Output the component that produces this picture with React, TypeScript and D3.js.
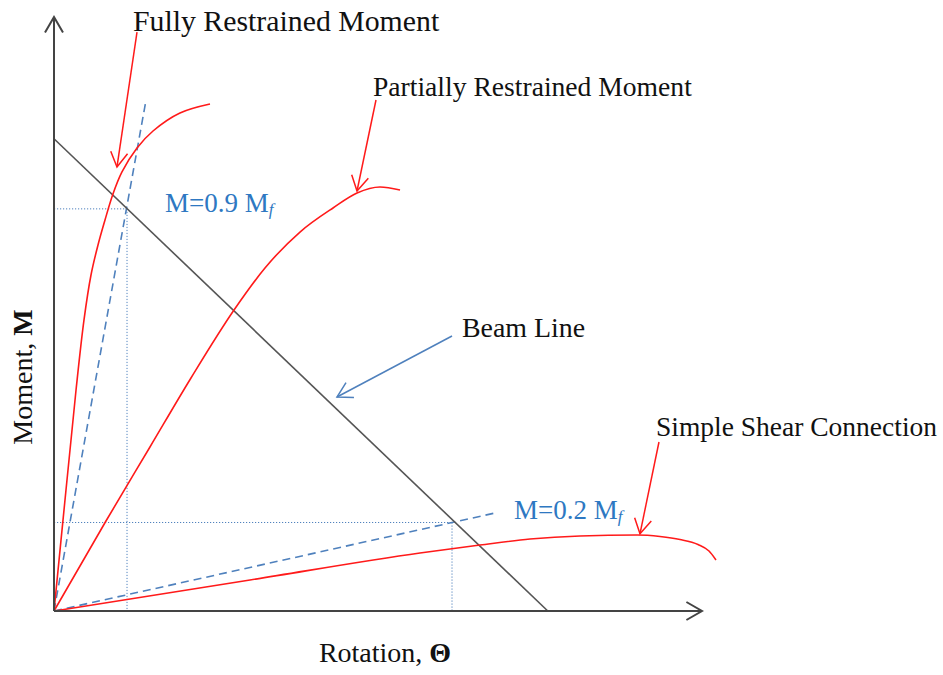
import React from "react";
import * as d3 from "d3";

// ---- Data (arbitrary units: rotation θ, moment M) ----
const fullyTheta = [0, 1.85, 3.4, 4.63, 5.71, 6.79, 7.87, 9.1, 10.49, 12.81, 15.28, 19.44, 24.07];
const fullyMoment = [0, 20.37, 37.21, 49.01, 56.57, 61.62, 65.82, 70.2, 73.91, 77.95, 80.81, 83.84, 85.35];

const partialTheta = [0, 8.02, 14.81, 21.14, 27.78, 32.56, 37.96, 43.06, 46.76, 50.31, 53.4];
const partialMoment = [0, 15.15, 27.61, 39.23, 50.67, 57.74, 63.8, 67.85, 70.37, 71.38, 70.88];

const shearTheta = [0, 30.25, 56.48, 65.74, 73.46, 81.17, 89.97, 93.52, 96.6, 99.38, 101.08, 102.16];
const shearMoment = [0, 5.22, 9.76, 11.11, 12.12, 12.63, 12.79, 12.54, 12.04, 11.2, 10.1, 8.59];

const beamTheta = [0, 76.2];
const beamMoment = [79.5, 0];

// secant (dashed) lines from origin
const secantTheta = [14.2, 68.06];
const secantMoment = [86.0, 16.5];

// intersection reference points (beam line)
const refTheta = [11.27, 61.42];
const refMoment = [67.7, 14.9];
const refLabels = ["M=0.9 M", "M=0.2 M"];

const W = 943;
const H = 675;
const x = d3.scaleLinear().domain([0, 100]).range([54, 702]);
const y = d3.scaleLinear().domain([0, 100]).range([611, 17]);

const RED = "#ff1a1a";
const BLUE = "#4f81bd";
const LABEL_BLUE = "#2e78c2";
const FONT = "'Liberation Serif', 'Times New Roman', serif";

const makeLine = (curve: d3.CurveFactory) =>
  d3
    .line<[number, number]>()
    .x((d) => x(d[0]))
    .y((d) => y(d[1]))
    .curve(curve);

const lineC = makeLine(d3.curveCatmullRom.alpha(0.5));
const lineX = makeLine(d3.curveMonotoneX);
const lineStraight = makeLine(d3.curveLinear);

const zip = (a: number[], b: number[]): [number, number][] => a.map((v, i) => [v, b[i]]);

function arrowHead(x1: number, y1: number, x2: number, y2: number, len = 16, ang = 30) {
  const a = Math.atan2(y1 - y2, x1 - x2);
  const r = (ang * Math.PI) / 180;
  const p1 = [x2 + len * Math.cos(a + r), y2 + len * Math.sin(a + r)];
  const p2 = [x2 + len * Math.cos(a - r), y2 + len * Math.sin(a - r)];
  return `M${p1[0]},${p1[1]}L${x2},${y2}L${p2[0]},${p2[1]}`;
}

// annotation arrows (data coords)
const annotations = [
  { text: "Fully Restrained Moment", tx: 12.19, ty: 97.64, size: 29.8, from: [12.81, 97.47], to: [9.72, 74.75], color: RED },
  { text: "Partially Restrained Moment", tx: 49.23, ty: 86.7, size: 27.6, from: [49.69, 86.03], to: [46.76, 70.71], color: RED },
  { text: "Beam Line", tx: 62.96, ty: 46.13, size: 27.9, from: [61.42, 46.3], to: [43.67, 36.03], color: BLUE },
  { text: "Simple Shear Connection", tx: 92.9, ty: 29.46, size: 27.5, from: [93.36, 28.45], to: [90.43, 13.0], color: RED },
];
const refLabelPos = [
  [17.13, 67.17],
  [70.99, 15.49],
];

export default function App() {
  const x0 = x(0);
  const y0 = y(0);
  const curves = [
    lineC(zip(fullyTheta, fullyMoment)),
    lineX(zip(partialTheta, partialMoment)),
    lineX(zip(shearTheta, shearMoment)),
  ];
  return (
    <svg
      width={W}
      height={H}
      style={{ position: "absolute", left: 0, top: 0, background: "#fff" }}
      fontFamily={FONT}
    >
      <rect width={W} height={H} fill="#fff" />
      {/* dotted reference lines */}
      {refTheta.map((t, i) => (
        <g key={"ref" + i} stroke={BLUE} strokeWidth={1} strokeDasharray="1.2,1.8" fill="none">
          <line x1={x0} y1={y(refMoment[i])} x2={x(t)} y2={y(refMoment[i])} />
          <line x1={x(t)} y1={y(refMoment[i])} x2={x(t)} y2={y0} />
        </g>
      ))}
      {/* dashed secant lines */}
      {secantTheta.map((t, i) => (
        <line
          key={"sec" + i}
          x1={x0}
          y1={y0}
          x2={x(t)}
          y2={y(secantMoment[i])}
          stroke={BLUE}
          strokeWidth={1.6}
          strokeDasharray="8,5"
        />
      ))}
      {/* beam line */}
      <path d={lineStraight(zip(beamTheta, beamMoment)) || ""} stroke="#555" strokeWidth={1.6} fill="none" />
      {/* curves */}
      {curves.map((d, i) => (
        <path key={"c" + i} d={d || ""} stroke={RED} strokeWidth={1.6} fill="none" />
      ))}
      {/* axes */}
      <g stroke="#444" strokeWidth={2} fill="none">
        <line x1={x0} y1={y0} x2={x(100)} y2={y0} />
        <line x1={x0} y1={y0} x2={x0} y2={y(100)} />
        <path d={arrowHead(x0, y0, x(100), y0, 18, 30)} />
        <path d={arrowHead(x0, y0, x0, y(100), 18, 30)} />
      </g>
      {/* annotations */}
      {annotations.map((a, i) => {
        const fx = x(a.from[0]);
        const fy = y(a.from[1]);
        const tx = x(a.to[0]);
        const ty = y(a.to[1]);
        return (
          <g key={"an" + i}>
            <line x1={fx} y1={fy} x2={tx} y2={ty} stroke={a.color} strokeWidth={1.5} />
            <path d={arrowHead(fx, fy, tx, ty, 17, 30)} stroke={a.color} strokeWidth={1.5} fill="none" />
            <text x={x(a.tx)} y={y(a.ty)} fontSize={a.size} fill="#111">
              {a.text}
            </text>
          </g>
        );
      })}
      {/* ref labels */}
      {refLabels.map((l, i) => (
        <text key={"rl" + i} x={x(refLabelPos[i][0])} y={y(refLabelPos[i][1])} fontSize={27} fill={LABEL_BLUE}>
          {l}
          <tspan fontSize={17} fontStyle="italic" dy={3}>
            f
          </tspan>
        </text>
      ))}
      {/* axis titles */}
      <text x={385} y={662} fontSize={28} textAnchor="middle" fill="#111">
        Rotation,{" "}
        <tspan fontWeight="bold">Θ</tspan>
      </text>
      <text transform="translate(32,377) rotate(-90)" fontSize={28} textAnchor="middle" fill="#111">
        Moment, <tspan fontWeight="bold">M</tspan>
      </text>
    </svg>
  );
}
